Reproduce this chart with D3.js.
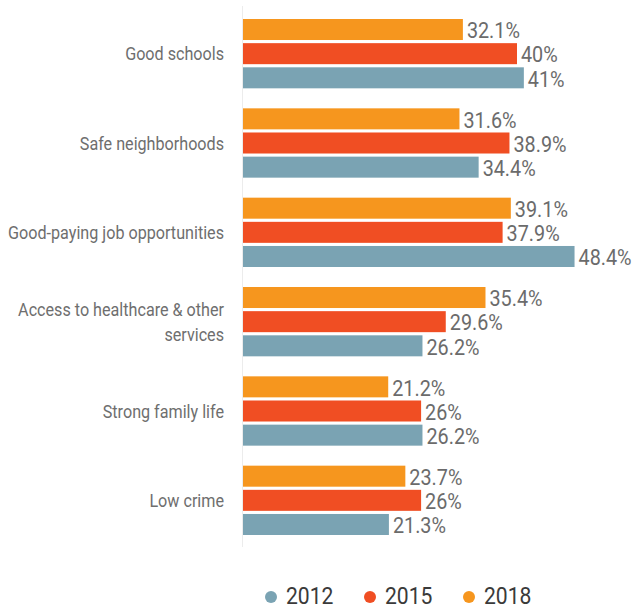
<!DOCTYPE html>
<html>
<head>
<meta charset="utf-8">
<script src="https://cdn.jsdelivr.net/npm/d3@7"></script>
<style>
  html, body { margin: 0; padding: 0; background: #fff; }
  svg { display: block; font-family: Roboto, "Noto Sans", sans-serif; }
</style>
</head>
<body>
<svg id="chart" width="634" height="609"></svg>
<script>
// Survey items, top to bottom ("\n" marks a line break in the label)
const categories = [
  "Good schools",
  "Safe neighborhoods",
  "Good-paying job opportunities",
  "Access to healthcare & other\nservices",
  "Strong family life",
  "Low crime"
];

// Share of respondents (%) per survey year
const values2012 = [41, 34.4, 48.4, 26.2, 26.2, 21.3];
const values2015 = [40, 38.9, 37.9, 29.6, 26, 26];
const values2018 = [32.1, 31.6, 39.1, 35.4, 21.2, 23.7];

// Bar order inside each group (top to bottom) and legend order
const barYears = ["2018", "2015", "2012"];
const legendYears = ["2012", "2015", "2018"];

const seriesByYear = { "2012": values2012, "2015": values2015, "2018": values2018 };
const colorScale = d3.scaleOrdinal()
  .domain(["2012", "2015", "2018"])
  .range(["#7aa3b3", "#f04e23", "#f6961e"]);

const svg = d3.select("#chart");

// Condensed-looking text: Roboto squeezed horizontally
function condensed(sel, sx) {
  sel.attr("transform", function () {
    const x = +this.dataset.x, y = +this.dataset.y;
    return `translate(${x},${y}) scale(${sx},1)`;
  });
}

const x = d3.scaleLinear().domain([0, 50]).range([243, 243 + 50 * 6.85]);

const y0 = d3.scaleBand()
  .domain(categories)
  .range([9, 545])
  .paddingInner(0.224)
  .paddingOuter(0.112);

const y1 = d3.scaleBand()
  .domain(barYears)
  .range([0, y0.bandwidth()])
  .paddingInner(0.13);

// Baseline of the bars
svg.append("line")
  .attr("x1", x(0) - 0.5).attr("x2", x(0) - 0.5)
  .attr("y1", 6).attr("y2", 547)
  .attr("stroke", "#ececec")
  .attr("stroke-width", 1);

const rows = [];
categories.forEach((c, i) => {
  barYears.forEach(yr => rows.push({ cat: c, year: yr, value: seriesByYear[yr][i] }));
});

const bars = svg.append("g");
bars.selectAll("rect")
  .data(rows)
  .join("rect")
  .attr("x", x(0))
  .attr("y", d => y0(d.cat) + y1(d.year))
  .attr("width", d => x(d.value) - x(0))
  .attr("height", y1.bandwidth())
  .attr("fill", d => colorScale(d.year));

// Value labels at the end of each bar
const valFs = 22;
bars.selectAll("text")
  .data(rows)
  .join("text")
  .attr("data-x", d => x(d.value) + 4)
  .attr("data-y", d => y0(d.cat) + y1(d.year) + y1.bandwidth() / 2 + valFs * 0.355 + 1)
  .attr("font-size", valFs)
  .attr("fill", "#6b6b6b")
  .text(d => `${d.value}%`)
  .call(condensed, 0.9);

// Category labels, right-aligned against the axis
const catFs = 19;
const lineGap = 25;
const catG = svg.append("g");
categories.forEach(c => {
  const lines = c.split("\n");
  const mid = y0(c) + y0.bandwidth() / 2;
  lines.forEach((t, j) => {
    const cy = mid + (j - (lines.length - 1) / 2) * lineGap;
    catG.append("text")
      .attr("data-x", 224)
      .attr("data-y", cy + catFs * 0.355)
      .attr("text-anchor", "end")
      .attr("font-size", catFs)
      .attr("fill", "#6e6e6e")
      .text(t)
      .call(condensed, 0.85);
  });
});

// Legend
const legendX = d3.scalePoint().domain(legendYears).range([271, 469]);
const legend = svg.append("g");
legend.selectAll("circle")
  .data(legendYears)
  .join("circle")
  .attr("cx", d => legendX(d))
  .attr("cy", 597)
  .attr("r", 6)
  .attr("fill", d => colorScale(d));
legend.selectAll("text")
  .data(legendYears)
  .join("text")
  .attr("data-x", d => legendX(d) + 15)
  .attr("data-y", 604)
  .attr("font-size", 24)
  .attr("fill", "#3a3a3a")
  .text(d => d)
  .call(condensed, 0.88);
</script>
</body>
</html>
